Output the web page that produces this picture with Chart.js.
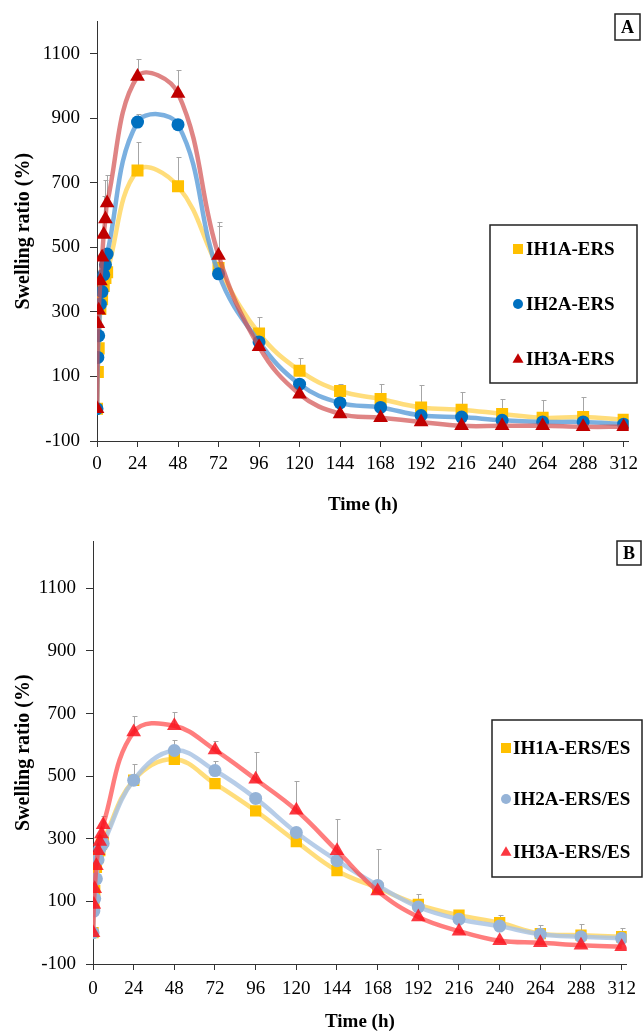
<!DOCTYPE html>
<html>
<head>
<meta charset="utf-8">
<script src="https://cdn.jsdelivr.net/npm/chart.js@4.4.0/dist/chart.umd.min.js"></script>
<style>
  body { margin: 0; background: #fff; }
  #wrap { position: relative; width: 644px; height: 1033px; }
  canvas { position: absolute; left: 0; }
</style>
</head>
<body>
<div id="wrap">
  <canvas id="chartA" width="644" height="520" style="top:0"></canvas>
  <canvas id="chartB" width="644" height="513" style="top:520px"></canvas>
</div>
<script>
/* sampling times (h), shared by both panels */
var times = [0, 0.5, 1, 2, 3, 4, 5, 6, 24, 48, 72, 96, 120, 144, 168, 192, 216, 240, 264, 288, 312];
var xTicks = [0, 24, 48, 72, 96, 120, 144, 168, 192, 216, 240, 264, 288, 312];
var yTicks = [-100, 100, 300, 500, 700, 900, 1100];

/* Panel A : ERS hydrogels */
var labelsA = ['IH1A-ERS', 'IH2A-ERS', 'IH3A-ERS'];
var ih1a = [0, 114, 187, 309, 339, 380, 405, 423, 738, 689, 436, 233, 118, 55, 30, 4, -3, -16, -28, -26, -34];
var ih2a = [0, 159, 226, 324, 363, 415, 446, 479, 888, 880, 418, 207, 76, 18, 4, -21, -26, -36, -41, -41, -48];
var ih3a = [0, 263, 305, 396, 469, 540, 588, 637, 1029, 977, 475, 192, 45, -16, -28, -41, -53, -53, -53, -56, -56];
/* upper error bars (SD), 0 = not visible */
var ih1aErr = [0, 0, 0, 0, 0, 0, 0, 0, 88, 90, 130, 50, 40, 22, 46, 69, 56, 46, 55, 61, 0];
var ih2aErr = [0, 0, 0, 0, 0, 0, 0, 0, 25, 10, 0, 0, 0, 0, 0, 0, 0, 0, 0, 0, 0];
var ih3aErr = [0, 0, 0, 0, 0, 120, 120, 88, 53, 73, 103, 0, 0, 0, 0, 0, 0, 0, 0, 0, 0];

/* Panel B : ERS/ES hydrogels */
var labelsB = ['IH1A-ERS/ES', 'IH2A-ERS/ES', 'IH3A-ERS/ES'];
var ih1b = [0, 93, 135, 209, 240, 262, 283, 294, 487, 554, 476, 389, 291, 198, 143, 90, 56, 32, -3, -8, -13];
var ih2b = [0, 69, 109, 172, 233, 267, 278, 285, 487, 582, 518, 429, 320, 230, 151, 82, 43, 21, -5, -13, -18];
var ih3b = [0, 90, 140, 214, 262, 291, 315, 345, 641, 661, 584, 490, 391, 262, 133, 50, 5, -26, -32, -40, -45];
var ih1bErr = [0, 0, 0, 0, 0, 0, 0, 0, 0, 0, 0, 0, 0, 0, 0, 34, 0, 24, 27, 37, 29];
var ih2bErr = [0, 0, 0, 0, 0, 0, 0, 0, 52, 35, 32, 0, 0, 0, 116, 0, 0, 0, 0, 0, 0];
var ih3bErr = [0, 0, 0, 0, 0, 0, 0, 28, 50, 43, 27, 86, 95, 100, 0, 0, 0, 0, 0, 0, 0];

var FONT = '"Liberation Serif", "Times New Roman", serif';

function pts(vals) {
    return vals.map(function (v, i) { return {x: times[i], y: v}; });
}

/* grey upward-only error bars, drawn under the markers */
var errorBars = {
    id: 'errorBars',
    beforeDatasetsDraw: function (chart) {
	var ctx = chart.ctx, ys = chart.scales.y;
	ctx.save();
	ctx.strokeStyle = '#a6a6a6';
	ctx.lineWidth = 1;
	chart.data.datasets.forEach(function (ds, i) {
	    var meta = chart.getDatasetMeta(i);
	    (ds.errUp || []).forEach(function (e, j) {
		if (!e) return;
		var p = meta.data[j];
		var x = Math.round(p.x) + 0.5;
		var top = Math.round(ys.getPixelForValue(ds.data[j].y + e)) + 0.5;
		ctx.beginPath();
		ctx.moveTo(x, p.y);
		ctx.lineTo(x, top);
		ctx.moveTo(x - 2, top);
		ctx.lineTo(x + 3, top);
		ctx.stroke();
	    });
	});
	ctx.restore();
    }
};

function drawMarker(ctx, style, x, y, r, color) {
    ctx.fillStyle = color;
    ctx.beginPath();
    if (style === 'rect') {
	ctx.rect(x - r, y - r, 2 * r, 2 * r);
    } else if (style === 'triangle') {
	ctx.moveTo(x, y - r * 1.15);
	ctx.lineTo(x + r * 1.1, y + r * 0.75);
	ctx.lineTo(x - r * 1.1, y + r * 0.75);
	ctx.closePath();
    } else {
	ctx.arc(x, y, r, 0, Math.PI * 2);
    }
    ctx.fill();
}

/* boxed legend + panel letter */
var boxLegend = {
    id: 'boxLegend',
    afterDraw: function (chart, args, o) {
	var ctx = chart.ctx;
	ctx.save();
	ctx.strokeStyle = '#222';
	ctx.lineWidth = 1.5;
	ctx.strokeRect(o.x, o.y, o.w, o.h);
	ctx.font = 'bold ' + o.size + 'px ' + FONT;
	ctx.textBaseline = 'middle';
	ctx.textAlign = 'left';
	chart.data.datasets.forEach(function (ds, i) {
	    var yy = o.rows[i];
	    drawMarker(ctx, ds.pointStyle, o.markerX, yy, 5, ds.pointBackgroundColor);
	    ctx.fillStyle = '#000';
	    ctx.fillText(ds.label, o.textX, yy + 1);
	});
	/* panel letter */
	var t = o.tag;
	ctx.lineWidth = 1.5;
	ctx.strokeRect(t.x, t.y, t.w, t.h);
	ctx.font = 'bold 18px ' + FONT;
	ctx.textAlign = 'center';
	ctx.fillStyle = '#000';
	ctx.fillText(t.text, t.x + t.w / 2, t.y + t.h / 2 + 1);
	ctx.restore();
    }
};

function makeChart(id, labels, series, errs, lineCols, dotCols, sizes, geo) {
    var styles = ['rect', 'circle', 'triangle'];
    var datasets = series.map(function (vals, k) {
	return {
	    label: labels[k],
	    data: pts(vals),
	    errUp: errs[k],
	    order: 3 - k,
	    borderColor: lineCols[k],
	    borderWidth: 4.5,
	    tension: 0.4,
	    fill: false,
	    pointStyle: styles[k],
	    pointRadius: sizes[k],
	    pointBackgroundColor: dotCols[k],
	    pointBorderColor: dotCols[k],
	    pointBorderWidth: 0
	};
    });
    var axisCol = '#333';
    return new Chart(document.getElementById(id), {
	type: 'line',
	data: {datasets: datasets},
	plugins: [errorBars, boxLegend],
	options: {
	    responsive: false,
	    animation: false,
	    layout: {padding: {top: geo.top, right: geo.right, left: 0, bottom: 0}},
	    plugins: {
		legend: {display: false},
		tooltip: {enabled: false},
		boxLegend: geo.legend
	    },
	    scales: {
		x: {
		    type: 'linear', min: 0, max: 315,
		    afterBuildTicks: function (s) { s.ticks = xTicks.map(function (v) { return {value: v}; }); },
		    afterFit: function (s) { s.height = geo.xh; },
		    grid: {drawOnChartArea: false, drawTicks: true, tickLength: 6, color: axisCol},
		    border: {display: true, color: axisCol, width: 1},
		    ticks: {color: '#000', font: {family: FONT, size: 19}, padding: geo.xpad, maxRotation: 0,
			    autoSkip: false, callback: function (v) { return String(v); }},
		    title: {display: true, text: 'Time (h)', color: '#000',
			    font: {family: FONT, size: 19, weight: 'bold'}, padding: {top: 0, bottom: geo.tpad}}
		},
		y: {
		    type: 'linear', min: -100, max: geo.ymax,
		    afterBuildTicks: function (s) { s.ticks = yTicks.map(function (v) { return {value: v}; }); },
		    afterFit: function (s) { s.width = geo.left; },
		    grid: {drawOnChartArea: false, drawTicks: true, tickLength: 7, color: axisCol},
		    border: {display: true, color: axisCol, width: 1},
		    ticks: {color: '#000', font: {family: FONT, size: 19}, padding: 10,
			    callback: function (v) { return String(v); }},
		    title: {display: true, text: 'Swelling ratio (%)', color: '#000',
			    font: {family: FONT, size: 20, weight: 'bold'}, padding: {top: 12, bottom: 0}}
		}
	    }
	}
    });
}

makeChart('chartA', labelsA, [ih1a, ih2a, ih3a], [ih1aErr, ih2aErr, ih3aErr],
	  ['rgba(255,212,90,0.8)', 'rgba(100,162,218,0.85)', 'rgba(210,80,80,0.7)'],
	  ['#FFC000', '#0070C0', '#C00000'],
	  [8.5, 6.5, 8.5],
	  {top: 14, right: 10, left: 97, xh: 79, xpad: 6, tpad: 4, ymax: 1200,
	   legend: {x: 490, y: 225, w: 147, h: 158, rows: [249, 304, 359], markerX: 518, textX: 526, size: 19,
		    tag: {text: 'A', x: 615, y: 14, w: 25, h: 26}}});

makeChart('chartB', labelsB, [ih1b, ih2b, ih3b], [ih1bErr, ih2bErr, ih3bErr],
	  ['rgba(255,212,90,0.8)', 'rgba(170,196,228,0.85)', 'rgba(255,70,70,0.7)'],
	  ['#FFC000', '#95B3D7', 'rgba(250,20,30,0.85)'],
	  [8, 6.5, 8.5],
	  {top: 20, right: 10, left: 93, xh: 69, xpad: 8, tpad: 0, ymax: 1250,
	   legend: {x: 492, y: 200, w: 150, h: 157, rows: [228, 279, 332], markerX: 506, textX: 513, size: 19,
		    tag: {text: 'B', x: 617, y: 21, w: 24, h: 24}}});
</script>
</body>
</html>
